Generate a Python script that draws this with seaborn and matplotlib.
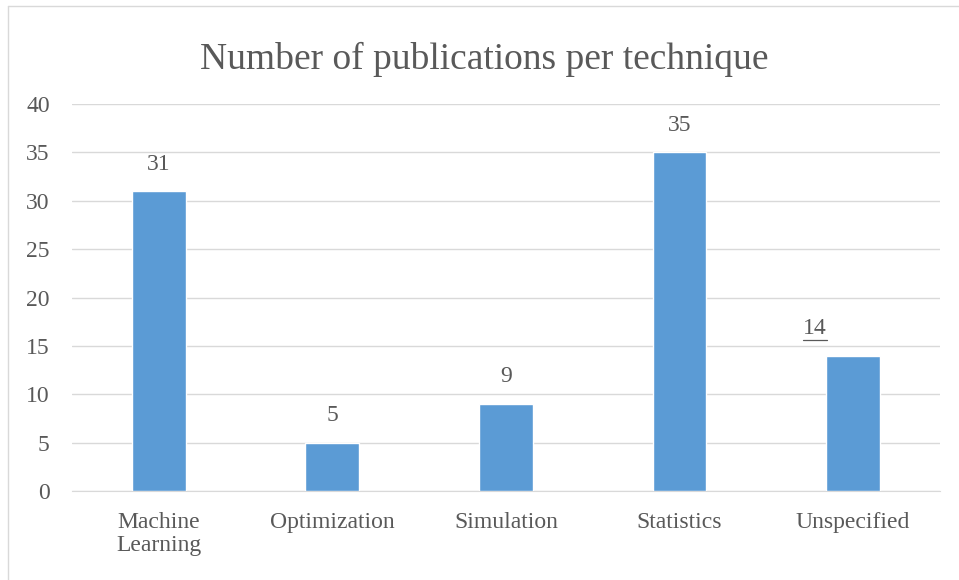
import matplotlib
matplotlib.use("Agg")
import matplotlib.pyplot as plt
import seaborn as sns
import pandas as pd

# Data
techniques = ["Machine\nLearning", "Optimization", "Simulation", "Statistics", "Unspecified"]
publications = [31, 5, 9, 35, 14]
y_ticks = [0, 5, 10, 15, 20, 25, 30, 35, 40]

df = pd.DataFrame({"Technique": techniques, "Publications": publications})

sns.set_style("white")
plt.rcParams["font.family"] = ["Liberation Serif", "DejaVu Serif"]
text_color = "#595959"

fig = plt.figure(figsize=(9.59, 5.80), dpi=100)
ax = fig.add_axes([0.075, 0.1534, 0.905, 0.6673])

sns.barplot(data=df, x="Technique", y="Publications", color="#5B9BD5",
            saturation=1, width=0.31, ax=ax, zorder=3)

ax.set_ylim(0, 40)
ax.set_yticks(y_ticks)
ax.set_xlim(-0.5, len(techniques) - 0.5)
ax.yaxis.grid(True, color="#D9D9D9", linewidth=1.0, zorder=0)
ax.xaxis.grid(False)
for side in ["top", "right", "left"]:
    ax.spines[side].set_visible(False)
ax.spines["bottom"].set_color("#D9D9D9")
ax.tick_params(axis="both", length=0, labelsize=17, colors=text_color)
ax.tick_params(axis="x", pad=15)
ax.tick_params(axis="y", pad=16)
for lbl in ax.get_xticklabels():
    lbl.set_linespacing(1.15)
ax.set_xlabel("")
ax.set_ylabel("")

# value labels above the bars (the last one is underlined and shifted left)
for i, v in enumerate(publications):
    if techniques[i] == "Unspecified":
        ax.text(i - 0.22, v + 1.7, str(v), ha="center", va="bottom",
                fontsize=17, color=text_color)
        ax.plot([i - 0.29, i - 0.15], [v + 1.6, v + 1.6], color=text_color,
                linewidth=0.9, clip_on=False)
    else:
        ax.text(i, v + 1.7, str(v), ha="center", va="bottom",
                fontsize=17, color=text_color)

fig.text(0.505, 0.897, "Number of publications per technique", ha="center",
         va="center", fontsize=27, color=text_color)

# light frame around the chart
fig.add_artist(plt.Line2D([8 / 959, 8 / 959], [0, 1 - 6 / 580],
                          color="#D9D9D9", linewidth=1.0))
fig.add_artist(plt.Line2D([8 / 959, 1], [1 - 6 / 580, 1 - 6 / 580],
                          color="#D9D9D9", linewidth=1.0))

fig.savefig("out.png", dpi=100)
